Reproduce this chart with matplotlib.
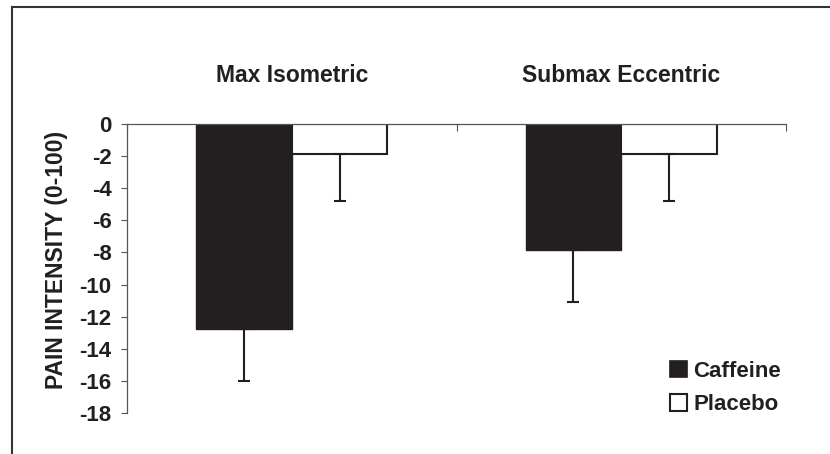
import matplotlib
matplotlib.use("Agg")
import matplotlib.pyplot as plt
from matplotlib.patches import Patch
from matplotlib.lines import Line2D
import numpy as np

plt.rcParams['font.family'] = ['Liberation Sans', 'DejaVu Sans']
plt.rcParams['font.weight'] = 'bold'

categories = ["Max Isometric", "Submax Eccentric"]
series_names = ["Caffeine", "Placebo"]
caffeine = [-12.75, -7.85]
caffeine_err = [3.25, 3.23]
placebo = [-1.87, -1.87]
placebo_err = [2.9, 2.9]
yticks = [0, -2, -4, -6, -8, -10, -12, -14, -16, -18]

ink = '#231f20'
W, H = 830, 454
fig = plt.figure(figsize=(W / 100, H / 100), dpi=100)
ax = fig.add_axes([127 / W, 1 - 413 / H, (786 - 127) / W, (413 - 124) / H])

x = np.arange(len(categories))
bw = 0.29
ekw = dict(ecolor=ink, elinewidth=1.5, capthick=1.5)
ax.bar(x - bw / 2, caffeine, bw, color=ink, edgecolor=ink, linewidth=1.0,
       yerr=[caffeine_err, [0, 0]], capsize=4.5, error_kw=ekw, zorder=3)
ax.bar(x + bw / 2, placebo, bw, color='white', edgecolor=ink, linewidth=1.5,
       yerr=[placebo_err, [0, 0]], capsize=4.5, error_kw=ekw, zorder=3)

ax.set_xlim(-0.5, 1.5)
ax.set_ylim(-18, 0)
ax.set_yticks(yticks)
ax.set_yticklabels([str(v) for v in yticks], fontsize=16, fontweight='bold', color=ink)
ax.tick_params(axis='y', direction='out', length=4, width=0.8, color='#555555', pad=7)

ax.xaxis.tick_top()
ax.set_xticks([-0.5, 0.5, 1.5])
ax.set_xticklabels([])
ax.tick_params(axis='x', direction='in', length=5, width=0.8, color='#555555')

for s in ['bottom', 'right']:
    ax.spines[s].set_visible(False)
for s in ['top', 'left']:
    ax.spines[s].set_color('#555555')
    ax.spines[s].set_linewidth(0.9)
ax.spines['top'].set_zorder(4)

for i, c in enumerate(categories):
    ax.text(i, 1 + 49 / 289, c, transform=ax.get_xaxis_transform(),
            ha='center', va='center', fontsize=16.5, fontweight='bold', color=ink)

fig.text(57 / W, 1 - 260 / H, "PAIN INTENSITY (0-100)", rotation=90,
         ha='center', va='center', fontsize=16.5, fontweight='bold', color=ink)

handles = [Patch(facecolor=ink, edgecolor=ink, linewidth=1.2),
           Patch(facecolor='white', edgecolor=ink, linewidth=1.5)]
leg = fig.legend(handles, series_names, loc='upper left',
                 bbox_to_anchor=(670 / W, 1 - 361 / H), frameon=False,
                 prop=dict(size=16, weight='bold'), handlelength=0.75,
                 handleheight=0.75, handletextpad=0.3, labelspacing=0.55,
                 borderpad=0, borderaxespad=0)
for t in leg.get_texts():
    t.set_color(ink)

# outer frame
fig.add_artist(Line2D([12 / W, 1], [1 - 7 / H, 1 - 7 / H], transform=fig.transFigure,
                      color='#333333', linewidth=1.5))
fig.add_artist(Line2D([12 / W, 12 / W], [0, 1 - 7 / H], transform=fig.transFigure,
                      color='#333333', linewidth=1.5))

fig.savefig("out.png", dpi=100)
